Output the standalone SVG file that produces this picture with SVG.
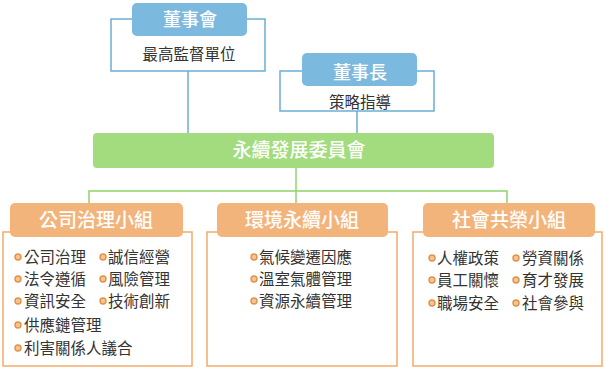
<svg xmlns="http://www.w3.org/2000/svg" width="605" height="369" viewBox="0 0 605 369">
<style>
text{font-family:"Noto Sans CJK TC","Microsoft JhengHei","Noto Sans",sans-serif;}
.bh{fill:#7cb9de;}
.bo{fill:none;stroke:#6aaed6;stroke-width:1.5;}
.gb{fill:#a2dc7e;}
.gl{fill:none;stroke:#8dd46c;stroke-width:1.5;}
.oh{fill:#f3b47c;}
.oo{fill:#fff;stroke:#f2ac68;stroke-width:1.5;}
.ht{fill:#fff;font-size:18px;text-anchor:middle;font-weight:500;}
.st{fill:#333;font-size:15.5px;text-anchor:middle;}
.li{fill:#333;font-size:15.5px;}
.bu{fill:#f6c48e;stroke:#e0914a;stroke-width:1.4;}
</style>
<g id="connectors">
<line class="bo" x1="188" y1="71" x2="188" y2="133"/>
<line class="bo" x1="357" y1="111" x2="357" y2="133"/>
<polyline class="gl" points="296,168 296,191"/>
<polyline class="gl" points="89,203 89,191 507,191 507,203"/>
<line class="gl" x1="296" y1="191" x2="296" y2="203"/>
</g>
<g id="board">
<rect class="bo" x="111" y="19" width="154" height="52"/>
<rect class="bh" x="132" y="3" width="115" height="33" rx="5"/>
<text class="ht" x="190" y="26">董事會</text>
<text class="st" x="189" y="60">最高監督單位</text>
</g>
<g id="chairman">
<rect class="bo" x="280" y="71" width="154" height="40"/>
<rect class="bh" x="302" y="53" width="115" height="33" rx="5"/>
<text class="ht" x="360" y="79">董事長</text>
<text class="st" x="360" y="108">策略指導</text>
</g>
<g id="committee">
<rect class="gb" x="93" y="133" width="401" height="35" rx="4"/>
<text class="ht" x="299" y="157" style="font-size:19px">永續發展委員會</text>
</g>
<g id="governance">
<rect class="oo" x="3" y="232" width="189" height="134"/>
<rect class="oh" x="10" y="203" width="173" height="34" rx="5"/>
<text class="ht" x="96" y="227" style="font-size:19px">公司治理小組</text>
<circle class="bu" cx="18" cy="257" r="3"/><text class="li" x="24" y="263">公司治理</text>
<circle class="bu" cx="103" cy="257" r="3"/><text class="li" x="108" y="263">誠信經營</text>
<circle class="bu" cx="18" cy="279" r="3"/><text class="li" x="24" y="285">法令遵循</text>
<circle class="bu" cx="103" cy="279" r="3"/><text class="li" x="108" y="285">風險管理</text>
<circle class="bu" cx="18" cy="301" r="3"/><text class="li" x="24" y="307">資訊安全</text>
<circle class="bu" cx="103" cy="301" r="3"/><text class="li" x="108" y="307">技術創新</text>
<circle class="bu" cx="18" cy="325" r="3"/><text class="li" x="24" y="331">供應鏈管理</text>
<circle class="bu" cx="18" cy="348" r="3"/><text class="li" x="24" y="354">利害關係人議合</text>
</g>
<g id="environment">
<rect class="oo" x="207" y="232" width="190" height="134"/>
<rect class="oh" x="217" y="203" width="171" height="34" rx="5"/>
<text class="ht" x="302" y="227" style="font-size:19px">環境永續小組</text>
<circle class="bu" cx="254" cy="257" r="3"/><text class="li" x="259" y="263">氣候變遷因應</text>
<circle class="bu" cx="254" cy="279" r="3"/><text class="li" x="259" y="285">溫室氣體管理</text>
<circle class="bu" cx="254" cy="301" r="3"/><text class="li" x="259" y="307">資源永續管理</text>
</g>
<g id="social">
<rect class="oo" x="413" y="232" width="189" height="134"/>
<rect class="oh" x="423" y="203" width="172" height="34" rx="5"/>
<text class="ht" x="509" y="227" style="font-size:19px">社會共榮小組</text>
<circle class="bu" cx="432" cy="258" r="3"/><text class="li" x="437" y="264">人權政策</text>
<circle class="bu" cx="516" cy="258" r="3"/><text class="li" x="522" y="264">勞資關係</text>
<circle class="bu" cx="432" cy="280" r="3"/><text class="li" x="437" y="286">員工關懷</text>
<circle class="bu" cx="516" cy="280" r="3"/><text class="li" x="522" y="286">育才發展</text>
<circle class="bu" cx="432" cy="303" r="3"/><text class="li" x="437" y="309">職場安全</text>
<circle class="bu" cx="516" cy="303" r="3"/><text class="li" x="522" y="309">社會參與</text>
</g>
</svg>
